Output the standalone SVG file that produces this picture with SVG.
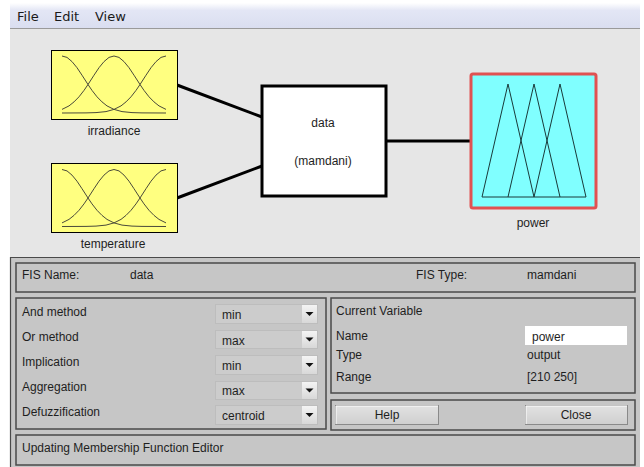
<svg xmlns="http://www.w3.org/2000/svg" width="644" height="467" viewBox="0 0 644 467">
  <defs>
    <linearGradient id="menuGrad" x1="0" y1="0" x2="0" y2="1">
      <stop offset="0" stop-color="#ffffff"/>
      <stop offset="0.3" stop-color="#e3e6f5"/>
      <stop offset="1" stop-color="#dadef0"/>
    </linearGradient>
    <linearGradient id="btnGrad" x1="0" y1="0" x2="0" y2="1">
      <stop offset="0" stop-color="#e2e2e2"/>
      <stop offset="1" stop-color="#cfcfcf"/>
    </linearGradient>
    <linearGradient id="arrowGrad" x1="0" y1="0" x2="0" y2="1">
      <stop offset="0" stop-color="#f4f4f4"/>
      <stop offset="1" stop-color="#d8d8d8"/>
    </linearGradient>
    <!-- three gaussian membership functions, local box 104 x 57 -->
    <g id="gauss3" fill="none" stroke="#4a4a3a" stroke-width="1">
      <polyline points="0,0 5,1.4 10,5.6 15,11.7 20,19.2 26,28.5 30,34.4 35,40.8 40,45.9 45,49.9 52,53.4 60,55.6 70,56.6 80,56.9 104,57"/>
      <polyline points="0,53.4 7,49.9 12,45.9 17,40.8 22,34.4 26,28.5 32,19.2 37,11.7 42,5.6 47,1.4 52,0 57,1.4 62,5.6 67,11.7 72,19.2 78,28.5 82,34.4 87,40.8 92,45.9 97,49.9 104,53.4"/>
      <polyline points="104,0 99,1.4 94,5.6 89,11.7 84,19.2 78,28.5 74,34.4 69,40.8 64,45.9 59,49.9 52,53.4 44,55.6 34,56.6 24,56.9 0,57"/>
    </g>
  </defs>
  <style>
    text { font-family: "Liberation Sans", Arial, sans-serif; font-size: 12px; fill: #1e1e1e; }
    .menu { font-family: "DejaVu Sans", "Liberation Sans", sans-serif; font-size: 13px; fill: #1a1a1a; }
    .mid { text-anchor: middle; }
    .panel { fill: #c6c6c6; stroke: #4a4a4a; stroke-width: 1.5; }
    .drop { fill: #cccccc; stroke: #bdbdbd; stroke-width: 1; }
    .dropArrow { fill: url(#arrowGrad); }
    .btn { fill: url(#btnGrad); stroke: #8a8a8a; stroke-width: 1; }
    .wire { stroke: #000; stroke-width: 3; fill: none; }
    .inMF { fill: #ffff80; stroke: #000; stroke-width: 1; }
  </style>

  <!-- window backgrounds -->
  <rect x="0" y="0" width="644" height="467" fill="#ffffff"/>
  <rect x="10" y="3" width="630" height="25" fill="url(#menuGrad)"/>
  <line x1="10" y1="28.5" x2="640" y2="28.5" stroke="#9a9a9a" stroke-width="1"/>
  <rect x="10" y="29" width="630" height="228" fill="#e6e6e6"/>
  <rect x="10" y="257" width="630" height="210" fill="#c6c6c6"/>
  <path d="M10.5,467 V257.5 H640" fill="none" stroke="#4a4a4a" stroke-width="1.2"/>

  <!-- menu -->
  <text class="menu" x="17" y="21">File</text>
  <text class="menu" x="54" y="21">Edit</text>
  <text class="menu" x="95" y="21">View</text>

  <!-- connectors -->
  <g id="connectors">
    <line class="wire" x1="177" y1="85" x2="262" y2="117"/>
    <line class="wire" x1="177" y1="198" x2="262" y2="166"/>
    <line class="wire" x1="387" y1="141" x2="470" y2="141"/>
  </g>

  <!-- input variable: irradiance -->
  <g id="irradiance">
    <rect class="inMF" x="51.5" y="50.5" width="126" height="69"/>
    <use href="#gauss3" transform="translate(62,56)"/>
    <text class="mid" x="114" y="135">irradiance</text>
  </g>

  <!-- input variable: temperature -->
  <g id="temperature">
    <rect class="inMF" x="51.5" y="163.5" width="126" height="69"/>
    <use href="#gauss3" transform="translate(62,169.5)"/>
    <text class="mid" x="113" y="248">temperature</text>
  </g>

  <!-- rule block -->
  <g id="data">
    <rect x="262" y="86" width="124" height="110" fill="#ffffff" stroke="#000" stroke-width="3"/>
    <text class="mid" x="323" y="127" fill="#333">data</text>
    <text class="mid" x="323" y="165" fill="#333">(mamdani)</text>
  </g>

  <!-- output variable: power (selected) -->
  <g id="power">
    <rect x="471" y="74" width="125" height="134" rx="2" fill="#80ffff" stroke="#e05252" stroke-width="3"/>
    <g fill="none" stroke="#1a3a3a" stroke-width="1">
      <polyline points="482,197 508,84 534,197"/>
      <polyline points="508,197 534,84 560,197"/>
      <polyline points="534,197 560,84 586,197"/>
      <line x1="482" y1="197" x2="586" y2="197"/>
    </g>
    <text class="mid" x="533" y="227">power</text>
  </g>

  <!-- FIS name / type panel -->
  <g id="fisInfo">
    <rect class="panel" x="16" y="263" width="619" height="29"/>
    <text x="22" y="279">FIS Name:</text>
    <text x="130" y="279">data</text>
    <text x="416" y="279">FIS Type:</text>
    <text x="527" y="279">mamdani</text>
  </g>

  <!-- method selectors -->
  <g id="methods">
    <rect class="panel" x="16" y="298" width="310" height="131"/>
    <text x="22" y="316">And method</text>
    <text x="22" y="341">Or method</text>
    <text x="22" y="366">Implication</text>
    <text x="22" y="391">Aggregation</text>
    <text x="22" y="416">Defuzzification</text>

    <rect class="drop" x="215.5" y="304.5" width="102" height="19"/>
    <rect class="dropArrow" x="302" y="305" width="15" height="18"/>
    <path d="M305.5,312 h8 l-4,4 z" fill="#111"/>
    <text x="222" y="319">min</text>

    <rect class="drop" x="215.5" y="330.5" width="102" height="18"/>
    <rect class="dropArrow" x="302" y="331" width="15" height="17"/>
    <path d="M305.5,337.5 h8 l-4,4 z" fill="#111"/>
    <text x="222" y="345">max</text>

    <rect class="drop" x="215.5" y="355.5" width="102" height="19"/>
    <rect class="dropArrow" x="302" y="356" width="15" height="18"/>
    <path d="M305.5,363 h8 l-4,4 z" fill="#111"/>
    <text x="222" y="370">min</text>

    <rect class="drop" x="215.5" y="381.5" width="102" height="18"/>
    <rect class="dropArrow" x="302" y="382" width="15" height="17"/>
    <path d="M305.5,388.5 h8 l-4,4 z" fill="#111"/>
    <text x="222" y="395">max</text>

    <rect class="drop" x="215.5" y="405.5" width="102" height="19"/>
    <rect class="dropArrow" x="302" y="406" width="15" height="18"/>
    <path d="M305.5,413 h8 l-4,4 z" fill="#111"/>
    <text x="222" y="420">centroid</text>
  </g>

  <!-- current variable -->
  <g id="currentVariable">
    <rect class="panel" x="331" y="298" width="304" height="95"/>
    <text x="336" y="315">Current Variable</text>
    <text x="336" y="340">Name</text>
    <text x="336" y="359">Type</text>
    <text x="336" y="381">Range</text>
    <rect x="525" y="326" width="102" height="19" fill="#ffffff"/>
    <text x="532" y="341">power</text>
    <text x="527" y="359">output</text>
    <text x="527" y="381">[210 250]</text>
  </g>

  <!-- buttons -->
  <g id="buttons">
    <rect class="panel" x="331" y="400" width="304" height="30"/>
    <rect class="btn" x="335.5" y="405.5" width="103" height="19"/>
    <path d="M336,424 V406 H438" fill="none" stroke="#ffffff" stroke-width="1"/>
    <text class="mid" x="387" y="419">Help</text>
    <rect class="btn" x="525.5" y="405.5" width="102" height="19"/>
    <path d="M526,424 V406 H627" fill="none" stroke="#ffffff" stroke-width="1"/>
    <text class="mid" x="576" y="419">Close</text>
  </g>

  <!-- status line -->
  <g id="status">
    <rect class="panel" x="16" y="435" width="619" height="30"/>
    <text x="22" y="452">Updating Membership Function Editor</text>
  </g>
</svg>
